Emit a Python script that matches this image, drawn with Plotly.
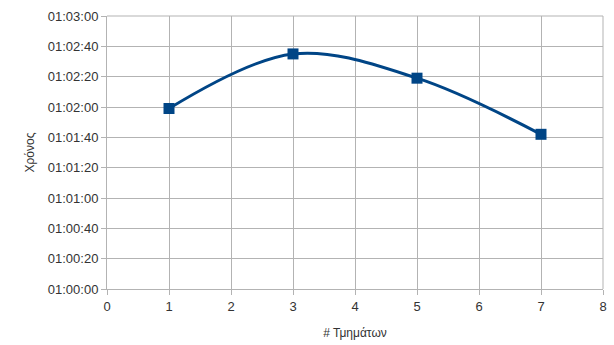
import plotly.graph_objects as go

# Number of segments vs. elapsed time
segments = [1, 3, 5, 7]
times = ["01:01:59", "01:02:35", "01:02:19", "01:01:42"]

y_ticks = ["01:00:00", "01:00:20", "01:00:40", "01:01:00", "01:01:20",
           "01:01:40", "01:02:00", "01:02:20", "01:02:40", "01:03:00"]

base = "1970-01-01 "
y_vals = [base + t for t in times]

fig = go.Figure()
fig.add_trace(go.Scatter(
    x=segments,
    y=y_vals,
    mode="lines+markers",
    line=dict(color="#004586", width=3, shape="spline", smoothing=1.0),
    marker=dict(symbol="square", size=11, color="#004586"),
))

grid = "#b3b3b3"
font = dict(family="Liberation Sans, Arial, sans-serif", size=13, color="#333333")

fig.update_layout(
    width=614, height=345,
    margin=dict(l=107, r=7, t=16, b=53),
    paper_bgcolor="white", plot_bgcolor="white",
    showlegend=False,
    font=font,
    xaxis=dict(
        range=[0, 8], tickmode="linear", tick0=0, dtick=1,
        showgrid=True, gridcolor=grid, gridwidth=1,
        showline=True, linecolor=grid, linewidth=1,
        ticks="outside", ticklen=5, tickcolor=grid,
        zeroline=False,
        title=dict(text="# Τμημάτων", font=dict(size=12, color="#333333"), standoff=16),
    ),
    yaxis=dict(
        type="date",
        range=[base + y_ticks[0], base + y_ticks[-1]],
        tickvals=[base + t for t in y_ticks],
        ticktext=y_ticks,
        showgrid=True, gridcolor=grid, gridwidth=1,
        showline=True, linecolor=grid, linewidth=1,
        ticks="outside", ticklen=5, tickcolor=grid,
        zeroline=False,
        title=dict(text="Χρόνος", font=dict(size=12, color="#333333"), standoff=10),
    ),
)
fig.add_shape(type="line", xref="paper", yref="paper", x0=1, x1=1, y0=0, y1=1,
              line=dict(color=grid, width=1))
fig.add_shape(type="line", xref="paper", yref="paper", x0=0, x1=1, y0=1, y1=1,
              line=dict(color=grid, width=1))

fig.write_html("out.html")
